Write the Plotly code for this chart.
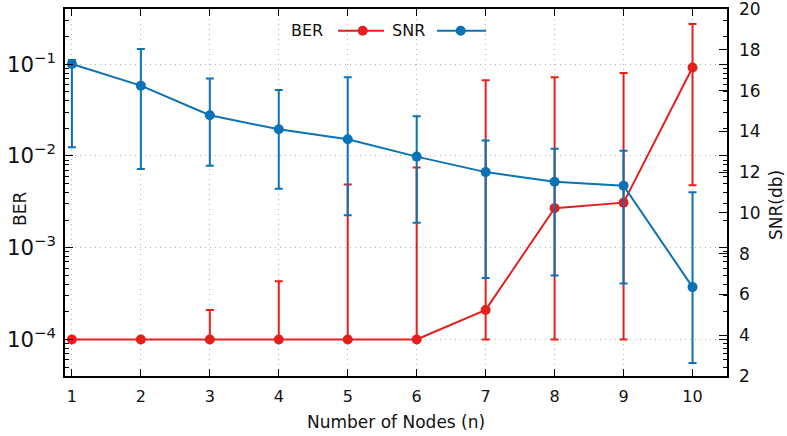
import plotly.graph_objects as go

# Number of nodes in the network
nodes = [1, 2, 3, 4, 5, 6, 7, 8, 9, 10]

# Bit error rate: mean value with min / max bounds
ber = [1.0e-4, 1.0e-4, 1.0e-4, 1.0e-4, 1.0e-4, 1.0e-4, 2.1e-4, 2.7e-3, 3.1e-3, 9.2e-2]
ber_hi = [1.0e-4, 1.0e-4, 2.1e-4, 4.3e-4, 4.9e-3, 7.5e-3, 6.7e-2, 7.2e-2, 8.0e-2, 2.75e-1]
ber_lo = [1.0e-4, 1.0e-4, 1.0e-4, 1.0e-4, 1.0e-4, 1.0e-4, 1.0e-4, 1.0e-4, 1.0e-4, 4.8e-3]

# Signal-to-noise ratio (dB): mean value with min / max bounds
snr = [17.3, 16.24, 14.79, 14.1, 13.61, 12.76, 12.0, 11.53, 11.33, 6.36]
snr_hi = [17.5, 18.04, 16.59, 16.03, 16.65, 14.74, 13.55, 13.15, 13.05, 11.01]
snr_lo = [13.22, 12.15, 12.31, 11.19, 9.89, 9.52, 6.81, 6.93, 6.54, 2.64]

# Log-scale minor tick positions for the BER axis
ber_minor = [m * 10.0 ** e for e in (-5, -4, -3, -2, -1) for m in range(2, 10)]
ber_minor = [v for v in ber_minor if 4e-5 <= v <= 0.4]

RED = "#e3201b"
BLUE = "#0b72b5"
FONT = "DejaVu Sans"
TXT = "#111111"
GRID = "#b4b4b4"

ber_up = [h - v for h, v in zip(ber_hi, ber)]
ber_dn = [v - l for v, l in zip(ber, ber_lo)]
snr_up = [h - v for h, v in zip(snr_hi, snr)]
snr_dn = [v - l for v, l in zip(snr, snr_lo)]

fig = go.Figure()

# invisible helper trace so the minor-tick axis is laid out
fig.add_trace(go.Scatter(
    x=nodes, y=ber, yaxis="y3", mode="markers",
    marker=dict(opacity=0), hoverinfo="skip", showlegend=False,
))

fig.add_trace(go.Scatter(
    x=nodes, y=ber, name="BER", yaxis="y",
    mode="lines+markers",
    line=dict(color=RED, width=2),
    marker=dict(color=RED, size=10, symbol="circle"),
    error_y=dict(type="data", symmetric=False, array=ber_up, arrayminus=ber_dn,
                 color=RED, thickness=2, width=4),
    showlegend=False,
))

fig.add_trace(go.Scatter(
    x=nodes, y=snr, name="SNR", yaxis="y2",
    mode="lines+markers",
    line=dict(color=BLUE, width=2),
    marker=dict(color=BLUE, size=10, symbol="circle"),
    error_y=dict(type="data", symmetric=False, array=snr_up, arrayminus=snr_dn,
                 color=BLUE, thickness=2, width=4),
    showlegend=False,
))

# Key at the top centre: label text followed by a line+point sample
L, R, T, B = 65, 60, 9, 60
W, H = 787, 436
pw, ph = W - L - R, H - T - B


def px(x):
    return (x - L) / pw


def py(y):
    return (H - B - y) / ph


key_y = py(30.7)
shapes = []
annotations = []
for label, color, text_end, x0, x1, xm in [
    ("BER", RED, 325, 338, 384, 362.7),
    ("SNR", BLUE, 427, 437, 486, 460.7),
]:
    annotations.append(dict(
        x=px(text_end), y=key_y, xref="paper", yref="paper",
        text=label, showarrow=False, xanchor="right", yanchor="middle",
        font=dict(family=FONT, size=16, color=TXT),
    ))
    shapes.append(dict(type="line", xref="paper", yref="paper",
                       x0=px(x0), x1=px(x1), y0=key_y, y1=key_y,
                       line=dict(color=color, width=2)))
    shapes.append(dict(type="circle", xref="paper", yref="paper",
                       xsizemode="pixel", ysizemode="pixel",
                       xanchor=px(xm), yanchor=key_y,
                       x0=-5, x1=5, y0=-5, y1=5,
                       fillcolor=color, line=dict(color=color, width=0)))

# Axis titles placed beside the frame
annotations.append(dict(x=px(20), y=py(209), xref="paper", yref="paper",
                        text="BER", textangle=-90, showarrow=False,
                        xanchor="center", yanchor="middle",
                        font=dict(family=FONT, size=17, color=TXT)))
annotations.append(dict(x=px(776), y=py(205), xref="paper", yref="paper",
                        text="SNR(db)", textangle=-90, showarrow=False,
                        xanchor="center", yanchor="middle",
                        font=dict(family=FONT, size=17, color=TXT)))
annotations.append(dict(x=px(396), y=py(422), xref="paper", yref="paper",
                        text="Number of Nodes (n)", showarrow=False,
                        xanchor="center", yanchor="middle",
                        font=dict(family=FONT, size=17, color=TXT)))

fig.update_layout(
    width=W, height=H,
    margin=dict(l=L, r=R, t=T, b=B, autoexpand=False),
    paper_bgcolor="white", plot_bgcolor="white",
    font=dict(family=FONT, size=16, color=TXT),
    shapes=shapes, annotations=annotations,
    xaxis=dict(
        range=[0.9, 10.5], tickmode="array", tickvals=nodes,
        ticks="inside", ticklen=7, tickwidth=1, tickcolor="black",
        showline=True, linecolor="black", linewidth=1.5, mirror="ticks",
        showgrid=True, gridcolor=GRID, griddash="1px,4px", gridwidth=1,
        zeroline=False, automargin=False, ticklabelstandoff=5,
        ticklabeloverflow="allow", tickfont=dict(size=16),
    ),
    yaxis=dict(
        type="log", range=[-4.398, -0.398], dtick=1, exponentformat="power",
        ticks="inside", ticklen=8, tickwidth=1, tickcolor="black",
        showline=True, linecolor="black", linewidth=1.5, mirror="ticks",
        showgrid=True, gridcolor=GRID, griddash="1px,4px", gridwidth=1,
        zeroline=False, automargin=False, ticklabelstandoff=4,
        ticklabeloverflow="allow", tickfont=dict(size=17),
    ),
    yaxis3=dict(
        type="log", range=[-4.398, -0.398], overlaying="y", side="left",
        tickmode="array", tickvals=ber_minor, showticklabels=False,
        ticks="inside", ticklen=4, tickwidth=1, tickcolor="black",
        showline=False, mirror="ticks", showgrid=False, zeroline=False,
        automargin=False,
    ),
    yaxis2=dict(
        overlaying="y", side="right", range=[2, 20], dtick=2,
        ticks="inside", ticklen=8, tickwidth=1, tickcolor="black",
        showline=False, showgrid=False, zeroline=False,
        automargin=False, ticklabelstandoff=11,
        ticklabeloverflow="allow", tickfont=dict(size=17),
    ),
)

fig.write_html("out.html")
